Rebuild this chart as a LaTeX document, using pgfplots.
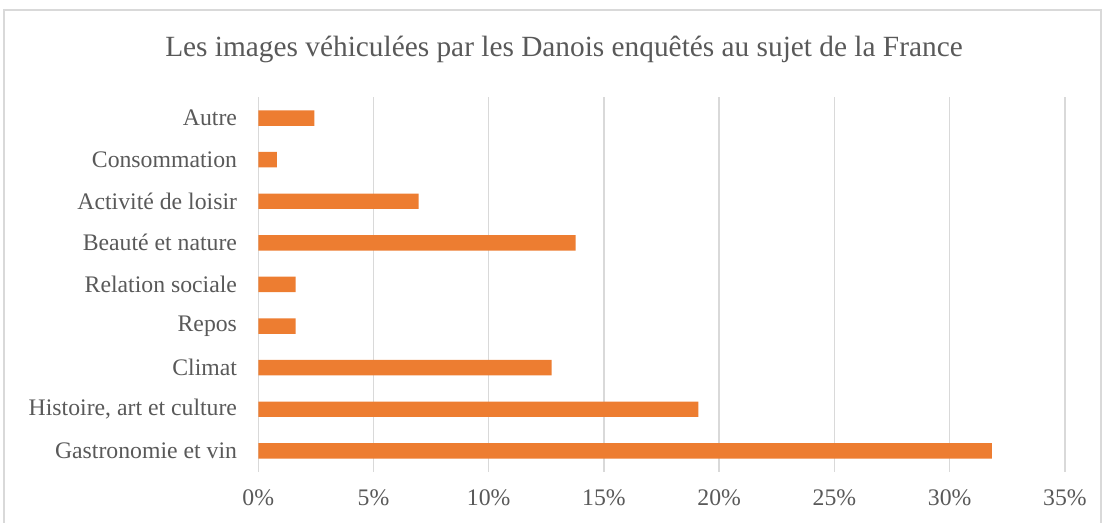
\documentclass[border=0pt]{standalone}
\usepackage{pgfplots}
\pgfplotsset{compat=1.18}
\usepackage{fontspec}
\setmainfont{Liberation Serif}
\definecolor{barorange}{HTML}{ED7D31}
\definecolor{gridgray}{HTML}{D9D9D9}
\definecolor{textgray}{HTML}{595959}

\begin{document}
\begin{tikzpicture}[x=0.75pt,y=0.75pt]
\useasboundingbox (0,0) rectangle (1105,523);
% chart frame (bottom edge lies outside the picture)
\draw[gridgray, line width=1.5] (4,-20) rectangle (1101,513);
\node[text=textgray, font=\fontsize{22}{26}\selectfont] at (564,474)
  {Les images véhiculées par les Danois enquêtés au sujet de la France};

\begin{axis}[
    at={(193.7pt,38.5pt)}, anchor=south west,
    scale only axis,
    width=605pt, height=280.8pt,
    xbar, bar width=11.6pt, bar shift=0pt,
    xmin=0, xmax=35, ymin=-0.5, ymax=8.5,
    xtick={0,5,...,35},
    xticklabel={\pgfmathprintnumber{\tick}\%},
    ytick={0,...,8},
    yticklabels={Gastronomie et vin, {Histoire, art et culture}, Climat, Repos,
      Relation sociale, Beauté et nature, Activité de loisir, Consommation, Autre},
    axis line style={draw=none},
    tick style={draw=none},
    xmajorgrids=true,
    grid style={gridgray, line width=1.5pt*0.75},
    ticklabel style={text=textgray, font=\fontsize{17.8}{21}\selectfont, inner sep=0pt},
    xticklabel shift=13.5pt,
    yticklabel shift=11.5pt,
    /pgf/number format/assume math mode=true,
]
\addplot[fill=barorange, draw=none] coordinates {
  (31.83,0) (19.10,1) (12.73,2) (1.62,3) (1.62,4)
  (13.77,5) (6.96,6) (0.81,7) (2.43,8)
};
\end{axis}
\end{tikzpicture}
\end{document}
